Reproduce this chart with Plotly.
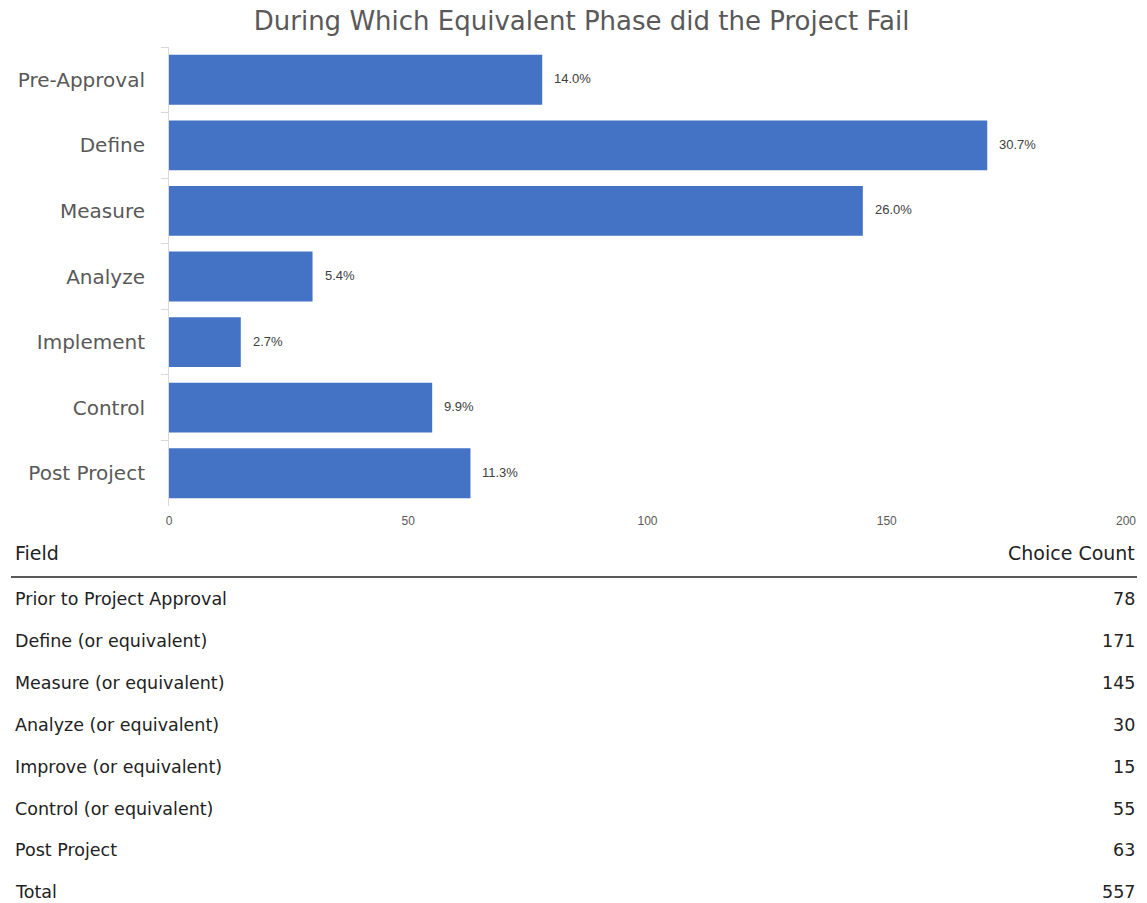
import plotly.graph_objects as go

W, H = 1147, 903

categories = ["Pre-Approval", "Define", "Measure", "Analyze", "Implement", "Control", "Post Project"]
counts = [78, 171, 145, 30, 15, 55, 63]
pct_labels = ["14.0%", "30.7%", "26.0%", "5.4%", "2.7%", "9.9%", "11.3%"]

table_fields = ["Prior to Project Approval", "Define (or equivalent)", "Measure (or equivalent)",
                "Analyze (or equivalent)", "Improve (or equivalent)", "Control (or equivalent)",
                "Post Project", "Total"]
table_counts = ["78", "171", "145", "30", "15", "55", "63", "557"]

x_ticks = [0, 50, 100, 150, 200]

MAIN_FONT = "DejaVu Sans"
SMALL_FONT = "Liberation Sans"

# observed on-screen mapping of the paper in the viewer
X0, WEFF = 3.0, 1134.0


def px(x):
    return min(max((x - X0) / WEFF, 0.0), 1.0)


def py(y):
    return 1 - y / H


fig = go.Figure()
fig.add_trace(go.Bar(
    y=categories, x=counts, orientation="h",
    marker=dict(color="#4472C4", line=dict(width=0)),
    hoverinfo="skip",
))

annotations = []
for c, v, t in zip(categories, counts, pct_labels):
    annotations.append(dict(x=v, y=c, xref="x", yref="y", text=t, showarrow=False,
                            xanchor="left", xshift=10, yshift=1,
                            font=dict(family=SMALL_FONT, size=13, color="#404040")))

# Table
annotations.append(dict(x=px(13), y=py(553), xref="paper", yref="paper", text="Field",
                        showarrow=False, xanchor="left", yanchor="middle",
                        font=dict(family=MAIN_FONT, size=19, color="#222222")))
annotations.append(dict(x=px(1145), y=py(553), xref="paper", yref="paper", text="Choice Count",
                        showarrow=False, xanchor="right", yanchor="middle",
                        font=dict(family=MAIN_FONT, size=19, color="#222222")))
row0, step = 599, 41.9
for i, (f, n) in enumerate(zip(table_fields, table_counts)):
    yy = row0 + i * step
    annotations.append(dict(x=px(13), y=py(yy), xref="paper", yref="paper", text=f,
                            showarrow=False, xanchor="left", yanchor="middle",
                            font=dict(family=MAIN_FONT, size=17.5, color="#222222")))
    annotations.append(dict(x=px(1145), y=py(yy), xref="paper", yref="paper", text=n,
                            showarrow=False, xanchor="right", yanchor="middle",
                            font=dict(family=MAIN_FONT, size=17.5, color="#222222")))

fig.update_layout(
    width=W, height=H,
    margin=dict(l=0, r=0, t=0, b=0),
    paper_bgcolor="white", plot_bgcolor="white",
    showlegend=False,
    bargap=0.24,
    title=dict(text="During Which Equivalent Phase did the Project Fail",
               x=px(578), xanchor="center", y=py(21), yanchor="middle",
               font=dict(family=MAIN_FONT, size=26, color="#595959")),
    xaxis=dict(domain=[px(169), px(1126)], range=[0, 200], tickvals=x_ticks,
               showgrid=False, zeroline=False, showline=False, ticks="",
               tickfont=dict(family=SMALL_FONT, size=12, color="#595959"),
               anchor="free", position=py(512)),
    yaxis=dict(domain=[py(506), py(47)], autorange="reversed", showgrid=False,
               showline=True, linecolor="#d9d9d9", linewidth=1,
               ticks="outside", ticklen=7, tickcolor="#d9d9d9", tickson="boundaries",
               ticklabelstandoff=19,
               tickfont=dict(family=MAIN_FONT, size=20, color="#595959")),
    annotations=annotations,
    shapes=[dict(type="line", xref="paper", yref="paper", x0=px(11), x1=1, y0=py(577), y1=py(577),
                 line=dict(color="#222222", width=1.5))],
)

fig.write_html("out.html", config={"responsive": False},
               post_script="document.body.style.margin='0px';document.body.style.overflow='hidden';")
